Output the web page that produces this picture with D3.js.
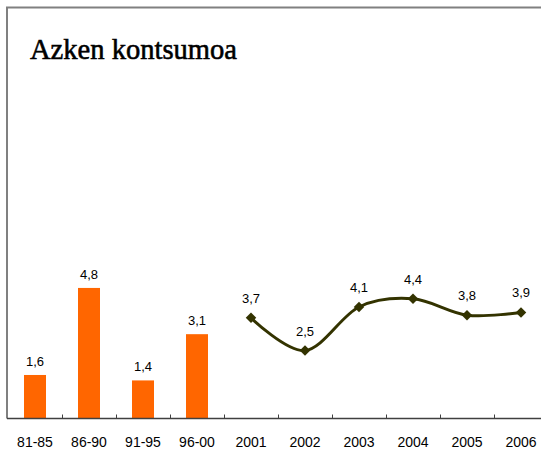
<!DOCTYPE html>
<html>
<head>
<meta charset="utf-8">
<script src="https://cdn.jsdelivr.net/npm/d3@7"></script>
<style>
  body { margin: 0; background: #fff; }
  svg { display: block; }
</style>
</head>
<body>
<div id="chart"></div>
<script>
var width  = 541,
    height = 450;

// categories along the x axis
var categories = ['81-85', '86-90', '91-95', '96-00', '2001', '2002', '2003', '2004', '2005', '2006'];
// five-year averages, drawn as bars
var barCats   = ['81-85', '86-90', '91-95', '96-00'];
var barValues = [1.6, 4.8, 1.4, 3.1];
// yearly values, drawn as a smoothed line
var lineCats   = ['2001', '2002', '2003', '2004', '2005', '2006'];
var lineValues = [3.7, 2.5, 4.1, 4.4, 3.8, 3.9];

var fmt = function(v) { return d3.format('.1f')(v).replace('.', ','); };

var svg = d3.select('#chart').append('svg')
    .attr('width', width)
    .attr('height', height);

var left = 8, axisY = 418.5;

var x = d3.scaleBand()
    .domain(categories)
    .range([left, left + 54 * categories.length])
    .paddingInner(0)
    .paddingOuter(0);

var y = d3.scaleLinear()
    .domain([0, 14])
    .range([axisY, axisY - 27.2 * 14]);

// frame
svg.append('path')
    .attr('d', 'M7,' + axisY + 'V7.5H' + (width + 2))
    .attr('fill', 'none')
    .attr('stroke', '#808080')
    .attr('stroke-width', 2);

// bars
svg.selectAll('rect.bar')
    .data(barValues)
    .enter()
    .append('rect')
    .attr('class', 'bar')
    .attr('x', function(d, i) { return x(barCats[i]) + x.bandwidth() / 2 - 11; })
    .attr('width', 22)
    .attr('y', function(d) { return y(d); })
    .attr('height', function(d) { return axisY - y(d); })
    .attr('fill', '#ff6600');

svg.selectAll('text.barlabel')
    .data(barValues)
    .enter()
    .append('text')
    .attr('x', function(d, i) { return x(barCats[i]) + x.bandwidth() / 2; })
    .attr('y', function(d) { return y(d) - 9; })
    .attr('text-anchor', 'middle')
    .style('font-family', 'Arial, "Liberation Sans", sans-serif')
    .style('font-size', '13px')
    .text(fmt);

// x axis
var xAxis = d3.axisBottom(x).tickSize(0).tickPadding(0);
var gx = svg.append('g')
    .attr('transform', 'translate(0,' + axisY + ')')
    .call(xAxis);
gx.select('.domain').remove();
gx.selectAll('text')
    .attr('dy', null)
    .attr('y', 28.5)
    .style('font-family', 'Arial, "Liberation Sans", sans-serif')
    .style('font-size', '14px')
    .style('fill', '#000');

svg.append('line')
    .attr('x1', 7).attr('x2', width)
    .attr('y1', axisY).attr('y2', axisY)
    .attr('stroke', '#404040')
    .attr('stroke-width', 1.5);

svg.selectAll('line.tick')
    .data(categories.slice(1))
    .enter()
    .append('line')
    .attr('class', 'tick')
    .attr('x1', function(d) { return Math.round(x(d)) + 0.5; })
    .attr('x2', function(d) { return Math.round(x(d)) + 0.5; })
    .attr('y1', axisY - 4)
    .attr('y2', axisY)
    .attr('stroke', '#404040')
    .attr('stroke-width', 1);

// line series
var pts = lineValues.map(function(v, i) {
    return [x(lineCats[i]) + x.bandwidth() / 2, y(v), v];
});

svg.append('path')
    .datum(pts)
    .attr('d', d3.line().curve(d3.curveCatmullRom.alpha(0)))
    .attr('fill', 'none')
    .attr('stroke', '#333300')
    .attr('stroke-width', 3);

svg.selectAll('path.marker')
    .data(pts)
    .enter()
    .append('path')
    .attr('class', 'marker')
    .attr('transform', function(d) { return 'translate(' + d[0] + ',' + d[1] + ')'; })
    .attr('d', d3.symbol().type(d3.symbolDiamond2).size(70))
    .attr('fill', '#333300');

svg.selectAll('text.linelabel')
    .data(pts)
    .enter()
    .append('text')
    .attr('x', function(d) { return d[0]; })
    .attr('y', function(d) { return d[1] - 15; })
    .attr('text-anchor', 'middle')
    .style('font-family', 'Arial, "Liberation Sans", sans-serif')
    .style('font-size', '13px')
    .text(function(d) { return fmt(d[2]); });

// title
svg.append('text')
    .attr('x', 30)
    .attr('y', 59)
    .attr('textLength', 207)
    .attr('lengthAdjust', 'spacingAndGlyphs')
    .style('font-family', '"Liberation Serif", "Times New Roman", serif')
    .style('font-size', '30px')
    .style('stroke', '#000')
    .style('stroke-width', 0.6)
    .text('Azken kontsumoa');
</script>
</body>
</html>
